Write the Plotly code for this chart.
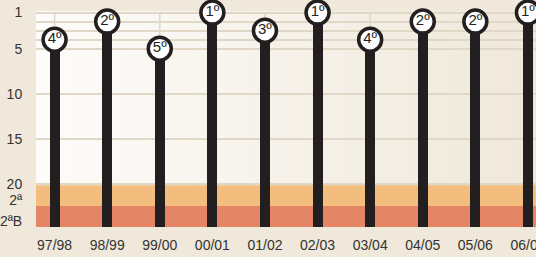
import base64
import struct
import zlib

import plotly.graph_objects as go

seasons = ['97/98', '98/99', '99/00', '00/01', '01/02', '02/03', '03/04', '04/05', '05/06', '06/07']
positions = [4, 2, 5, 1, 3, 1, 4, 2, 2, 1]
rank_labels = ['4º', '2º', '5º', '1º', '3º', '1º', '4º', '2º', '2º', '1º']

y_tick_vals = [1, 5, 10, 15, 20, 21.7, 24.1]
y_tick_text = ['1', '5', '10', '15', '20', '2ª', '2ªB']
grid_vals = [1, 2, 3, 4, 5, 10, 15, 20]

bottom = 24.7
top = 0.83
band_2a = (20.1, 22.37)
band_2b = (22.37, bottom)

FONT = "Liberation Sans, Arial, sans-serif"
BAR = '#231f20'
GRID = '#e0d7c6'
TXT = '#333333'


def gradient_png(c0, c1, w=256):
    """Horizontal gradient PNG (1 px tall) as data URI, for the plot background."""
    row = bytearray([0])
    for i in range(w):
        t = i / (w - 1)
        row += bytes(int(round(a + (b - a) * t)) for a, b in zip(c0, c1))
    raw = bytes(row)

    def chunk(tag, data):
        c = tag + data
        return struct.pack('>I', len(data)) + c + struct.pack('>I', zlib.crc32(c) & 0xffffffff)

    png = b'\x89PNG\r\n\x1a\n'
    png += chunk(b'IHDR', struct.pack('>IIBBBBB', w, 1, 8, 2, 0, 0, 0))
    png += chunk(b'IDAT', zlib.compress(raw))
    png += chunk(b'IEND', b'')
    return 'data:image/png;base64,' + base64.b64encode(png).decode()


fig = go.Figure()

fig.add_trace(go.Bar(
    x=seasons,
    y=[p - bottom for p in positions],
    base=[bottom] * len(seasons),
    width=0.19,
    marker=dict(color=BAR, line=dict(width=0)),
    showlegend=False,
))

fig.add_trace(go.Scatter(
    x=seasons, y=positions, mode='markers+text',
    text=rank_labels, textposition='middle center',
    textfont=dict(family=FONT, size=15, color=BAR),
    marker=dict(size=23, color='white', line=dict(color=BAR, width=3.5)),
    cliponaxis=False, showlegend=False,
))

# short vertical gridlines in the top (1-5) zone, one per season
for i, s in enumerate(seasons):
    fig.add_shape(type='line', xref='x', x0=i, x1=i, yref='y', y0=1, y1=5,
                  line=dict(color=GRID, width=1.5), layer='below')

fig.add_shape(type='rect', xref='paper', x0=0, x1=1, yref='y', y0=band_2a[0], y1=band_2a[1],
              fillcolor='#f2bd7d', line=dict(width=0), layer='between')
fig.add_shape(type='rect', xref='paper', x0=0, x1=1, yref='y', y0=band_2b[0], y1=band_2b[1],
              fillcolor='#e48566', line=dict(width=0), layer='between')

fig.add_layout_image(dict(
    source=gradient_png((253, 252, 250), (239, 232, 218)),
    xref='paper', yref='paper', x=0, y=1, sizex=1, sizey=1,
    xanchor='left', yanchor='top', sizing='stretch', layer='below',
))

fig.update_layout(
    width=536, height=257,
    margin=dict(l=36, r=0, t=11, b=30, autoexpand=False),
    paper_bgcolor='#f0e8da',
    plot_bgcolor='#f7f3ec',
    bargap=0,
    font=dict(family=FONT, size=14, color=TXT),
    xaxis=dict(
        type='category', range=[-0.353, 9.153], showgrid=False, zeroline=False,
        showline=False, ticks='outside', ticklen=5, tickcolor='rgba(0,0,0,0)',
        tickfont=dict(family=FONT, size=14, color=TXT), automargin=False,
    ),
    yaxis=dict(
        range=[bottom, top], tickmode='array', tickvals=y_tick_vals, ticktext=y_tick_text,
        showgrid=False, zeroline=False, showline=False,
        ticks='outside', ticklen=10, tickcolor='rgba(0,0,0,0)',
        tickfont=dict(family=FONT, size=14, color=TXT), automargin=False,
        minor=dict(tickmode='array', tickvals=grid_vals, showgrid=True,
                   gridcolor=GRID, gridwidth=2, ticks=''),
    ),
)

fig.write_html('out.html', config={'displayModeBar': False},
               post_script="document.body.style.margin='0';document.body.style.background='#f0e8da';")
